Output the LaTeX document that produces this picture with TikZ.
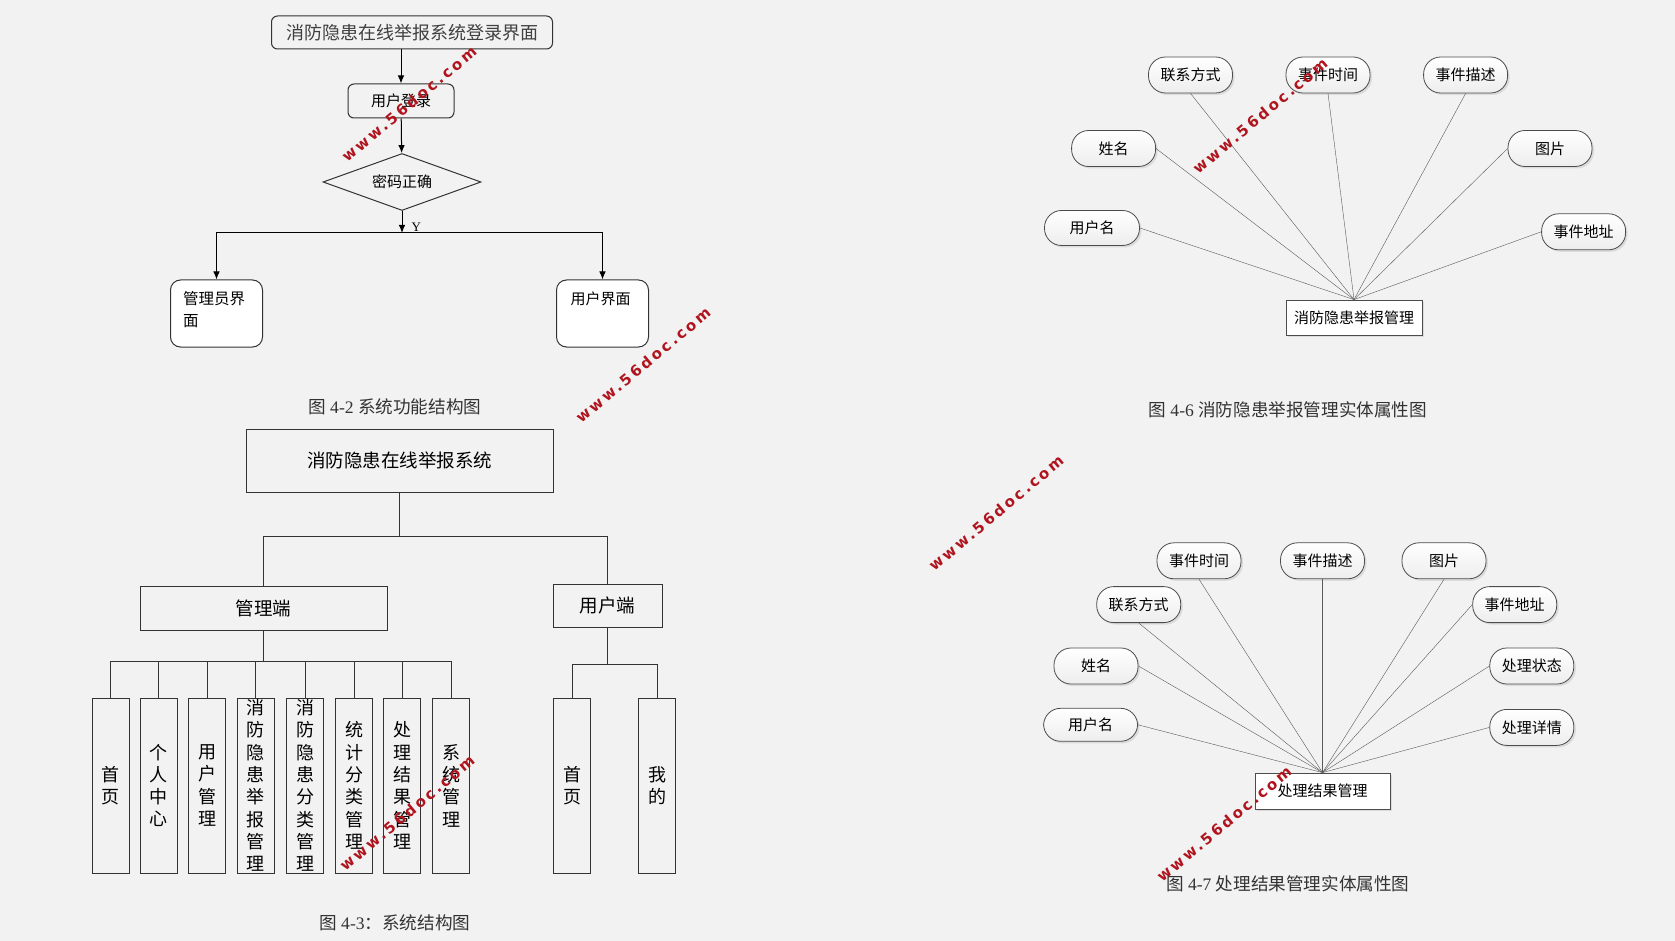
\documentclass[tikz,border=0pt]{standalone}
\usepackage{fontspec}
\setmainfont{Liberation Serif}
\newfontfamily\cjk{Noto Sans CJK SC}
\newfontfamily\wmfont[LetterSpace=18]{DejaVu Sans}
\usepackage{tikz}
\usetikzlibrary{arrows.meta,calc,positioning,shapes.geometric,shadows}
\definecolor{paperbg}{HTML}{F2F2F2}
\definecolor{wmred}{HTML}{B0141E}
\colorlet{boxline}{black!80}
\colorlet{erline}{black!65}
\newcommand{\cjkfs}[1]{\cjk\fontsize{#1}{#1}\selectfont}
\newcommand{\leafcol}[3]{%
  \node[leaf] (#1) at (#2,785.5) {};
  \node[leaftext] (#1txt) at (#1) {#3};}
\newcommand{\sitemark}[3]{%
  \node[wmark] (#1) at (#2,#3) {www.56doc.com};}
\tikzset{
  flowbox/.style={draw=boxline,line width=1pt,rounded corners=6pt,inner sep=0pt,font=\cjkfs{15}},
  pagebox/.style={flowbox,fill=white,rounded corners=10pt,minimum width=92pt,minimum height=67pt},
  tree/.style={draw=boxline,line width=1pt,inner sep=0pt,font=\cjkfs{18.5}},
  leaf/.style={tree,minimum width=37pt,minimum height=175pt},
  leaftext/.style={inner sep=0pt,text width=18pt,align=center,font=\cjk\fontsize{18}{22.3}\selectfont},
  attr/.style={draw=black!70,line width=0.8pt,rounded corners=17pt,top color=white,bottom color=black!7,
    drop shadow={shadow xshift=2pt,shadow yshift=-2pt,opacity=0.2},
    minimum width=84pt,minimum height=36pt,inner sep=0pt,font=\cjkfs{15}},
  entity/.style={draw=black!70,line width=0.8pt,fill=white,
    drop shadow={shadow xshift=2pt,shadow yshift=-2pt,opacity=0.2},
    minimum height=35pt,inner sep=0pt,font=\cjkfs{15}},
  caption/.style={text=black!80,inner sep=0pt,font=\fontsize{17.6}{17.6}\selectfont},
  wmark/.style={text=wmred,rotate=40,inner sep=0pt,font=\wmfont\bfseries\fontsize{15}{15}\selectfont}
}

\begin{document}
\begin{tikzpicture}[x=1pt,y=-1pt,>={Latex[length=8pt,width=6.5pt]}]
\fill[paperbg] (0,0) rectangle (1675,941); \useasboundingbox (0,0) rectangle (1675,941);
% 图4-2
\node[flowbox,minimum width=281pt,minimum height=33pt,font=\cjkfs{18},text=black!75] (entry) at (412,32.5) {消防隐患在线举报系统登录界面};
\node[flowbox,minimum width=106pt,minimum height=34pt] (signin) at (401,101) {用户登录};
\node[diamond,aspect=2.77,draw=boxline,line width=1pt,minimum width=158pt,minimum height=57pt,inner sep=0pt,font=\cjkfs{15}] (pwcheck) at (402,182) {密码正确};
\coordinate (fork) at (402,233);
\node[pagebox] (adminpage) at (216.5,313.5) {}; \node[pagebox] (userpage) at (602.5,313.5) {};
\node[anchor=north west,align=left,inner sep=0pt,font=\cjk\fontsize{15.5}{21.5}\selectfont] (admintxt) at ([xshift=13pt,yshift=-12pt]adminpage.north west) {管理员界\\面};
\node[anchor=north,inner sep=0pt,font=\cjkfs{15}] (usertxt) at ([xshift=-2pt,yshift=-12pt]userpage.north) {用户界面};
\draw[->,line width=1pt] (entry.south -| signin.north) -- (signin.north);
\draw[->,line width=1pt] (signin) -- (pwcheck);
\draw[->,line width=1pt] (pwcheck) -- (fork) node[anchor=south west,xshift=8pt,inner sep=1pt,font=\fontsize{13}{13}\selectfont]{Y};
\draw[->,line width=1pt] (fork) -| (adminpage.north); \draw[->,line width=1pt] (fork) -| (userpage.north);
\node[caption] (cap42) at (395,407) {\cjk 图 \rmfamily 4-2 \cjk 系统功能结构图};
% 图4-3
\node[tree,minimum width=307pt,minimum height=63pt] (sysroot) at (399.5,460.5) {消防隐患在线举报系统};
\node[tree,minimum width=247pt,minimum height=44pt] (adminend) at (263.5,608) {管理端};
\node[tree,minimum width=109pt,minimum height=43pt] (userend) at (607.5,605.5) {用户端};
\leafcol{home}{110.6}{首\\页} \leafcol{center}{158.6}{个\\人\\中\\心}
\leafcol{users}{207.2}{用\\户\\管\\理} \leafcol{reports}{255.8}{消\\防\\隐\\患\\举\\报\\管\\理}
\leafcol{kinds}{305}{消\\防\\隐\\患\\分\\类\\管\\理} \leafcol{stats}{354.1}{统\\计\\分\\类\\管\\理}
\leafcol{results}{402.2}{处\\理\\结\\果\\管\\理} \leafcol{system}{451.3}{系\\统\\管\\理}
\leafcol{uhome}{572}{首\\页} \leafcol{umine}{657}{我\\的}
\draw[line width=1pt,boxline] (sysroot.south) -- ++(0,44) coordinate (rootfork) -| (adminend.north);
\draw[line width=1pt,boxline] (rootfork) -| (userend.north);
\draw[line width=1pt,boxline] (adminend.south) -- ++(0,31) coordinate (adminfork) -| (home.north);
\draw[line width=1pt,boxline] (adminfork) -| (center.north); \draw[line width=1pt,boxline] (adminfork) -| (users.north);
\draw[line width=1pt,boxline] (adminfork) -| (reports.north); \draw[line width=1pt,boxline] (adminfork) -| (kinds.north);
\draw[line width=1pt,boxline] (adminfork) -| (stats.north); \draw[line width=1pt,boxline] (adminfork) -| (results.north);
\draw[line width=1pt,boxline] (adminfork) -| (system.north);
\draw[line width=1pt,boxline] (userend.south) -- ++(0,37) coordinate (userfork) -| (uhome.north);
\draw[line width=1pt,boxline] (userfork) -| (umine.north);
\node[caption] (cap43) at (395,923) {\cjk 图 \rmfamily 4-3\cjk ：系统结构图};
% 图4-6
\node[entity,minimum width=136pt] (report) at (1354,317.5) {消防隐患举报管理};
\node[attr] (rcontact) at (1190.5,75) {联系方式}; \node[attr] (rtime) at (1328,75) {事件时间}; \node[attr] (rdesc) at (1465.6,75) {事件描述};
\node[attr] (rname) at (1113.6,148.5) {姓名}; \node[attr] (rpic) at (1550,148.5) {图片};
\node[attr,minimum width=95pt,minimum height=35pt] (ruser) at (1092,228) {用户名}; \node[attr] (raddr) at (1583.6,231.8) {事件地址};
\draw[erline] (rcontact.south) -- (report.north); \draw[erline] (rtime.south) -- (report.north); \draw[erline] (rdesc.south) -- (report.north);
\draw[erline] (rname.east) -- (report.north); \draw[erline] (rpic.west) -- (report.north);
\draw[erline] (ruser.east) -- (report.north); \draw[erline] (raddr.west) -- (report.north);
\node[caption] (cap46) at (1288,410) {\cjk 图 \rmfamily 4-6 \cjk 消防隐患举报管理实体属性图};
% 图4-7
\node[entity,minimum width=135pt,minimum height=36pt] (result) at (1322.5,791) {处理结果管理};
\node[attr] (ptime) at (1199,560.8) {事件时间}; \node[attr] (pdesc) at (1322.5,560.8) {事件描述}; \node[attr] (ppic) at (1444,560.8) {图片};
\node[attr] (pcontact) at (1138.7,604.6) {联系方式}; \node[attr] (paddr) at (1514.7,604.6) {事件地址};
\node[attr] (pname) at (1096,666) {姓名}; \node[attr] (pstate) at (1531.8,666) {处理状态};
\node[attr,minimum width=94pt,minimum height=33pt] (puser) at (1090.6,724.8) {用户名}; \node[attr] (pdetail) at (1531.8,727.4) {处理详情};
\draw[erline] (ptime.south) -- (result.north); \draw[erline] (pdesc.south) -- (result.north); \draw[erline] (ppic.south) -- (result.north);
\draw[erline] (pcontact.south) -- (result.north); \draw[erline] (paddr.west) -- (result.north);
\draw[erline] (pname.east) -- (result.north); \draw[erline] (pstate.west) -- (result.north);
\draw[erline] (puser.east) -- (result.north); \draw[erline] (pdetail.west) -- (result.north);
\node[caption] (cap47) at (1288,884) {\cjk 图 \rmfamily 4-7 \cjk 处理结果管理实体属性图};
% 水印
\sitemark{wm1}{409}{104} \sitemark{wm2}{643}{365} \sitemark{wm3}{996}{513}
\sitemark{wm4}{1260}{116} \sitemark{wm5}{407}{813} \sitemark{wm6}{1224}{824}
\end{tikzpicture}
\end{document}
